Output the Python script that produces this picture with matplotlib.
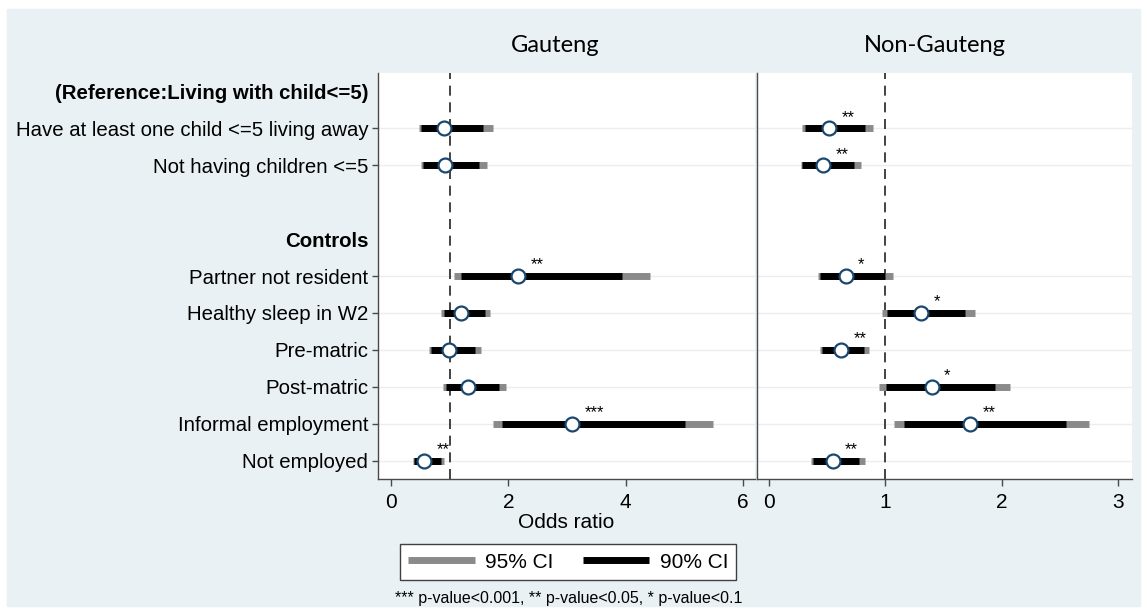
import numpy as np
import matplotlib.pyplot as plt
from matplotlib.lines import Line2D
from matplotlib.patches import Rectangle

plt.rcParams["font.family"] = ["Liberation Sans", "DejaVu Sans"]

#########
# rows from top to bottom, "" is an empty spacer row
row_labels = ["(Reference:Living with child<=5)",
              "Have at least one child <=5 living away",
              "Not having children <=5",
              "",
              "Controls",
              "Partner not resident",
              "Healthy sleep in W2",
              "Pre-matric",
              "Post-matric",
              "Informal employment",
              "Not employed"]
header_labels = ["(Reference:Living with child<=5)", "Controls"]

variables = ["Have at least one child <=5 living away",
             "Not having children <=5",
             "Partner not resident",
             "Healthy sleep in W2",
             "Pre-matric",
             "Post-matric",
             "Informal employment",
             "Not employed"]

# Gauteng
g_or = [0.90, 0.92, 2.16, 1.20, 0.99, 1.32, 3.08, 0.57]
g_lo90 = [0.52, 0.55, 1.19, 0.90, 0.69, 0.94, 1.90, 0.40]
g_hi90 = [1.56, 1.50, 3.94, 1.60, 1.43, 1.84, 5.00, 0.85]
g_lo95 = [0.47, 0.51, 1.07, 0.86, 0.65, 0.89, 1.74, 0.37]
g_hi95 = [1.74, 1.64, 4.41, 1.69, 1.53, 1.96, 5.48, 0.90]
g_stars = ["", "", "**", "", "", "", "***", "**"]

# Non-Gauteng
n_or = [0.52, 0.47, 0.66, 1.31, 0.62, 1.40, 1.73, 0.55]
n_lo90 = [0.31, 0.29, 0.44, 1.02, 0.46, 1.01, 1.16, 0.38]
n_hi90 = [0.83, 0.73, 1.00, 1.69, 0.82, 1.94, 2.55, 0.78]
n_lo95 = [0.29, 0.28, 0.42, 0.97, 0.44, 0.95, 1.08, 0.36]
n_hi95 = [0.90, 0.79, 1.07, 1.77, 0.86, 2.07, 2.75, 0.83]
n_stars = ["**", "**", "*", "*", "**", "*", "**", "**"]

gauteng_ticks = [0, 2, 4, 6]
non_gauteng_ticks = [0, 1, 2, 3]

ci95_color = "#8a8a8a"
ci90_color = "#000000"
spine_color = "#4a4a4a"


#########
def plot_panel(ax, odds, lo95, hi95, lo90, hi90, stars):
    ypos = [row_labels.index(v) for v in variables]
    for y in ypos:
        ax.axhline(y, color="#ededed", lw=1, zorder=0)
    ax.axvline(1, color="#222222", lw=1.2, ls=(0, (6, 4)), zorder=1)

    for i, y in enumerate(ypos):
        ax.plot([lo95[i], hi95[i]], [y, y], color=ci95_color, lw=5,
                solid_capstyle="butt", zorder=2)
        ax.plot([lo90[i], hi90[i]], [y, y], color=ci90_color, lw=5,
                solid_capstyle="butt", zorder=3)
        if stars[i]:
            ax.annotate(stars[i], (odds[i], y), xytext=(9, 8),
                        textcoords="offset points", ha="left", va="center",
                        fontsize=12)
    ax.plot(odds, ypos, "o", ms=10, mfc="white", mec="#1a476f", mew=1.6,
            zorder=4)

    ax.set_ylim(10.5, -0.5)
    for side in ["top", "right"]:
        ax.spines[side].set_visible(False)
    for side in ["left", "bottom"]:
        ax.spines[side].set_color(spine_color)
        ax.spines[side].set_linewidth(1)
    ax.tick_params(axis="x", direction="out", length=5, width=1,
                   color=spine_color, labelsize=15, pad=5)


#########
fig = plt.figure(figsize=(11.47, 6.10), dpi=100, facecolor="white")
fig.patches.append(Rectangle((7 / 1147, 1 - 606 / 610), 1133 / 1147, 597 / 610,
                             transform=fig.transFigure, color="#e9f1f4",
                             zorder=-1))

bottom = 1 - 479 / 610
height = (479 - 73) / 610
ax1 = fig.add_axes([378 / 1147, bottom, 377 / 1147, height])
ax2 = fig.add_axes([757 / 1147, bottom, 375 / 1147, height])

ax1.set_xlim(-0.22, 6.2)
ax1.set_xticks(gauteng_ticks)
ax2.set_xlim(-0.10, 3.12)
ax2.set_xticks(non_gauteng_ticks)

plot_panel(ax1, g_or, g_lo95, g_hi95, g_lo90, g_hi90, g_stars)
plot_panel(ax2, n_or, n_lo95, n_hi95, n_lo90, n_hi90, n_stars)

# row labels only on the left panel; headers bold and without a tick
ax1.set_yticks(range(len(row_labels)))
ax1.set_yticklabels(row_labels)
ax1.tick_params(axis="y", direction="out", length=4, width=1,
                color=spine_color, labelsize=14.7, pad=3)
for tick, lab in zip(ax1.yaxis.get_major_ticks(), row_labels):
    if lab == "" or lab in header_labels:
        tick.tick1line.set_visible(False)
    if lab in header_labels:
        tick.label1.set_fontweight("bold")
ax2.set_yticks([])

ax1.set_xlabel("Odds ratio", fontsize=15, labelpad=1)

fig.text(555 / 1147, 1 - 45 / 610, "Gauteng", fontsize=17, family="Lato",
         ha="center", va="center")
fig.text(935 / 1147, 1 - 45 / 610, "Non-Gauteng", fontsize=17, family="Lato",
         ha="center", va="center")

handles = [Line2D([], [], color=ci95_color, lw=5, solid_capstyle="butt"),
           Line2D([], [], color=ci90_color, lw=5, solid_capstyle="butt")]
leg = fig.legend(handles, ["95% CI", "90% CI"], ncol=2, loc="center",
                 bbox_to_anchor=(568 / 1147, 1 - 562 / 610),
                 frameon=True, fancybox=False, edgecolor="#404040",
                 framealpha=1, handlelength=3.2, handletextpad=0.5,
                 columnspacing=1.4, borderpad=0.4,
                 prop={"size": 15})
leg.get_frame().set_linewidth(1)

fig.text(569 / 1147, 1 - 598 / 610,
         "*** p-value<0.001, ** p-value<0.05, * p-value<0.1",
         fontsize=11.5, ha="center", va="center")

fig.savefig("out.png", dpi=100)
